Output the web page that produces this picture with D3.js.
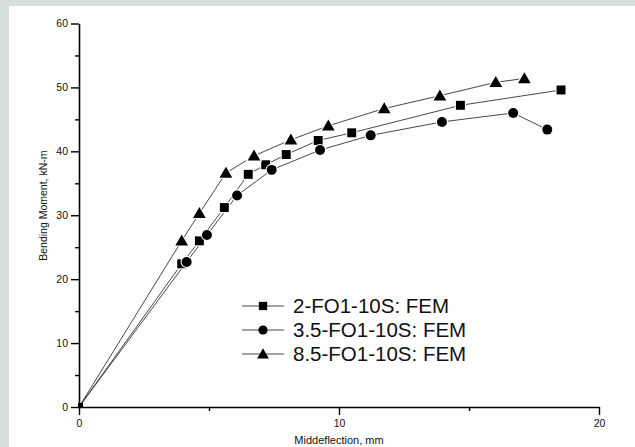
<!DOCTYPE html>
<html>
<head>
<meta charset="utf-8">
<script src="https://cdn.jsdelivr.net/npm/d3@7"></script>
<style>
  html, body { margin: 0; padding: 0; background: #fff; }
  svg { display: block; font-family: "Liberation Sans", Arial, sans-serif; }
</style>
</head>
<body>
<div id="viz"></div>
<script>
const WIDTH = 635, HEIGHT = 447;

// series names (legend)
const seriesNames = ["2-FO1-10S: FEM", "3.5-FO1-10S: FEM", "8.5-FO1-10S: FEM"];
const seriesSymbols = ["square", "circle", "triangle"];

// values: [deflection mm, moment kN-m]
const squareData = [[0, 0], [3.95, 22.4], [4.63, 26.0], [5.59, 31.2], [6.51, 36.4], [7.18, 37.9],
  [7.97, 39.5], [9.2, 41.7], [10.49, 42.9], [14.67, 47.2], [18.54, 49.6]];
const circleData = [[0, 0], [4.14, 22.7], [4.92, 26.9], [6.08, 33.1], [7.41, 37.1], [9.27, 40.2],
  [11.22, 42.5], [13.96, 44.6], [16.7, 46.0], [18.01, 43.4]];
const triangleData = [[0, 0], [3.95, 26.0], [4.63, 30.3], [5.65, 36.6], [6.73, 39.3], [8.15, 41.8],
  [9.59, 44.0], [11.74, 46.7], [13.88, 48.7], [16.03, 50.8], [17.13, 51.4]];

const xTicks = [0, 10, 20];
const yTicks = [0, 10, 20, 30, 40, 50, 60];

const svg = d3.select("#viz").append("svg")
  .attr("width", WIDTH).attr("height", HEIGHT);

// grey frame top/left
svg.append("rect").attr("width", WIDTH).attr("height", HEIGHT).attr("fill", "#d7dfde");
svg.append("rect").attr("x", 9).attr("y", 6).attr("width", WIDTH - 9).attr("height", HEIGHT - 6).attr("fill", "#fff");

const x = d3.scaleLinear().domain([0, 20]).range([79, 599]);
const y = d3.scaleLinear().domain([0, 60]).range([407, 23.5]);

// axes
svg.append("g").attr("transform", `translate(0,${y(0)})`)
  .call(d3.axisBottom(x).tickValues(xTicks).tickSize(8).tickPadding(5).tickSizeOuter(0));
svg.append("g").attr("transform", `translate(0,${y(0)})`)
  .call(d3.axisBottom(x).tickValues([5, 15]).tickSize(4).tickFormat("").tickSizeOuter(0))
  .select(".domain").remove();
svg.append("g").attr("transform", `translate(${x(0)},0)`)
  .call(d3.axisLeft(y).tickValues(yTicks).tickSize(8).tickPadding(3).tickSizeOuter(0));
svg.append("g").attr("transform", `translate(${x(0)},0)`)
  .call(d3.axisLeft(y).tickValues([5, 15, 25, 35, 45, 55]).tickSize(4).tickFormat("").tickSizeOuter(0))
  .select(".domain").remove();

svg.selectAll(".domain").attr("stroke", "#000").attr("stroke-width", 1.6);
svg.selectAll(".tick line").attr("stroke", "#000").attr("stroke-width", 1.4);
svg.selectAll(".tick text").attr("font-size", 10.5).attr("fill", "#111")
  .style("font-family", "'Liberation Sans', Arial, sans-serif");

// axis titles
svg.append("text")
  .attr("x", x(10)).attr("y", 444)
  .attr("text-anchor", "middle").attr("font-size", 11).attr("fill", "#111")
  .text("Middeflection, mm");
svg.append("text")
  .attr("transform", `translate(47,${y(31.5)}) rotate(-90)`)
  .attr("text-anchor", "middle").attr("font-size", 10.5).attr("fill", "#111")
  .text("Bending Moment, kN-m");

const symbolMap = { square: d3.symbolSquare, circle: d3.symbolCircle, triangle: d3.symbolTriangle };
const symbolSize = { square: 80, circle: 78, triangle: 70 };

const line = d3.line().x(d => x(d[0])).y(d => y(d[1]));
const allData = [squareData, circleData, triangleData];

allData.forEach(data => {
  svg.append("path")
    .datum(data)
    .attr("d", line)
    .attr("fill", "none")
    .attr("stroke", "#333")
    .attr("stroke-width", 0.9);
});

allData.forEach((data, i) => {
  const sym = seriesSymbols[i];
  const pts = data.filter(d => d[0] > 0);
  // white halo creates the gap between line and marker
  svg.append("g").selectAll("path")
    .data(pts)
    .join("path")
    .attr("transform", d => `translate(${x(d[0])},${y(d[1]) + (sym === "triangle" ? 1 : 0)})`)
    .attr("d", d3.symbol().type(symbolMap[sym]).size(symbolSize[sym]))
    .attr("fill", "#000")
    .attr("stroke", "#fff")
    .attr("stroke-width", 2.2)
    .attr("paint-order", "stroke");
});

// small marker at origin
svg.append("rect")
  .attr("x", x(0) - 1).attr("y", y(0) - 4).attr("width", 5).attr("height", 5).attr("fill", "#000");

// legend
const legend = svg.append("g").attr("transform", "translate(242,306)");
seriesNames.forEach((name, i) => {
  const g = legend.append("g").attr("transform", `translate(0,${i * 24})`);
  g.append("line").attr("x1", 0).attr("x2", 42).attr("y1", 0).attr("y2", 0)
    .attr("stroke", "#333").attr("stroke-width", 0.9);
  g.append("path")
    .attr("transform", `translate(21,${seriesSymbols[i] === "triangle" ? 1 : 0})`)
    .attr("d", d3.symbol().type(symbolMap[seriesSymbols[i]]).size(symbolSize[seriesSymbols[i]] * 0.85))
    .attr("fill", "#000");
  g.append("text")
    .attr("x", 51).attr("y", 0).attr("dy", "0.36em")
    .attr("font-size", 20.5).attr("fill", "#111")
    .text(name);
});
</script>
</body>
</html>
